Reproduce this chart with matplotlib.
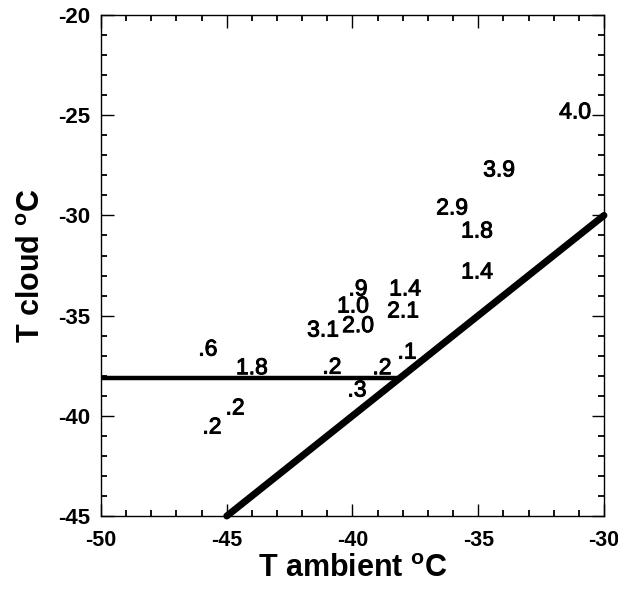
import matplotlib
matplotlib.use('Agg')
import matplotlib.pyplot as plt
import matplotlib.patheffects as pe
from matplotlib.ticker import MultipleLocator

plt.rcParams['font.family'] = ['Liberation Sans', 'DejaVu Sans']
plt.rcParams['axes.unicode_minus'] = False
plt.rcParams['mathtext.fontset'] = 'custom'
plt.rcParams['mathtext.rm'] = 'Liberation Sans:bold'
plt.rcParams['mathtext.bf'] = 'Liberation Sans:bold'

# labelled values (text placed at ambient / cloud temperature)
t_ambient = [-31.15, -34.17, -36.04, -35.05, -35.05, -37.91, -37.99, -39.78, -39.98,
             -39.78, -41.17, -45.75, -44.0, -40.82, -38.83, -37.83, -39.82, -44.67, -45.59]
t_cloud = [-24.84, -27.73, -29.63, -30.78, -32.82, -33.67, -34.77, -33.67, -34.52,
           -35.5, -35.72, -36.67, -37.6, -37.57, -37.6, -36.82, -38.71, -39.61, -40.56]
labels = ['4.0', '3.9', '2.9', '1.8', '1.4', '1.4', '2.1', '.9', '1.0',
          '2.0', '3.1', '.6', '1.8', '.2', '.2', '.1', '.3', '.2', '.2']

# lines
horiz_x = [-50, -38.1]
horiz_y = [-38.1, -38.1]
diag_x = [-45, -30]
diag_y = [-45, -30]

fig = plt.figure(figsize=(6.18, 5.89), dpi=100)
ax = fig.add_axes([0.1634, 0.1239, 0.8139, 0.8506])

ax.plot(horiz_x, horiz_y, color='black', linewidth=3.2, solid_capstyle='butt', clip_on=False)
ax.plot(diag_x, diag_y, color='black', linewidth=5, solid_capstyle='round', clip_on=False)

for x, y, s in zip(t_ambient, t_cloud, labels):
    ax.text(x, y, s, ha='center', va='center', fontsize=16.5,
            path_effects=[pe.withStroke(linewidth=0.7, foreground='black')])

ax.set_xlim(-50, -30)
ax.set_ylim(-45, -20)
ax.xaxis.set_major_locator(MultipleLocator(5))
ax.xaxis.set_minor_locator(MultipleLocator(1))
ax.yaxis.set_major_locator(MultipleLocator(5))
ax.yaxis.set_minor_locator(MultipleLocator(1))
ax.tick_params(which='both', direction='in', top=True, right=True, labelsize=16)
ax.tick_params(which='major', length=9, width=1)
ax.tick_params(which='minor', length=4.5, width=1.3)
ax.tick_params(axis='x', pad=10, labelsize=15.5)
ax.tick_params(axis='y', pad=8)
for lab in ax.get_xticklabels() + ax.get_yticklabels():
    lab.set_fontweight('bold')
for sp in ax.spines.values():
    sp.set_linewidth(1)

ax.set_xlabel(r'T ambient $^{\mathrm{o}}$C', fontsize=22, fontweight='bold', labelpad=2)
ax.set_ylabel(r'T cloud $^{\mathrm{o}}$C', fontsize=22, fontweight='bold', labelpad=8)

fig.savefig('out.png', dpi=100)
